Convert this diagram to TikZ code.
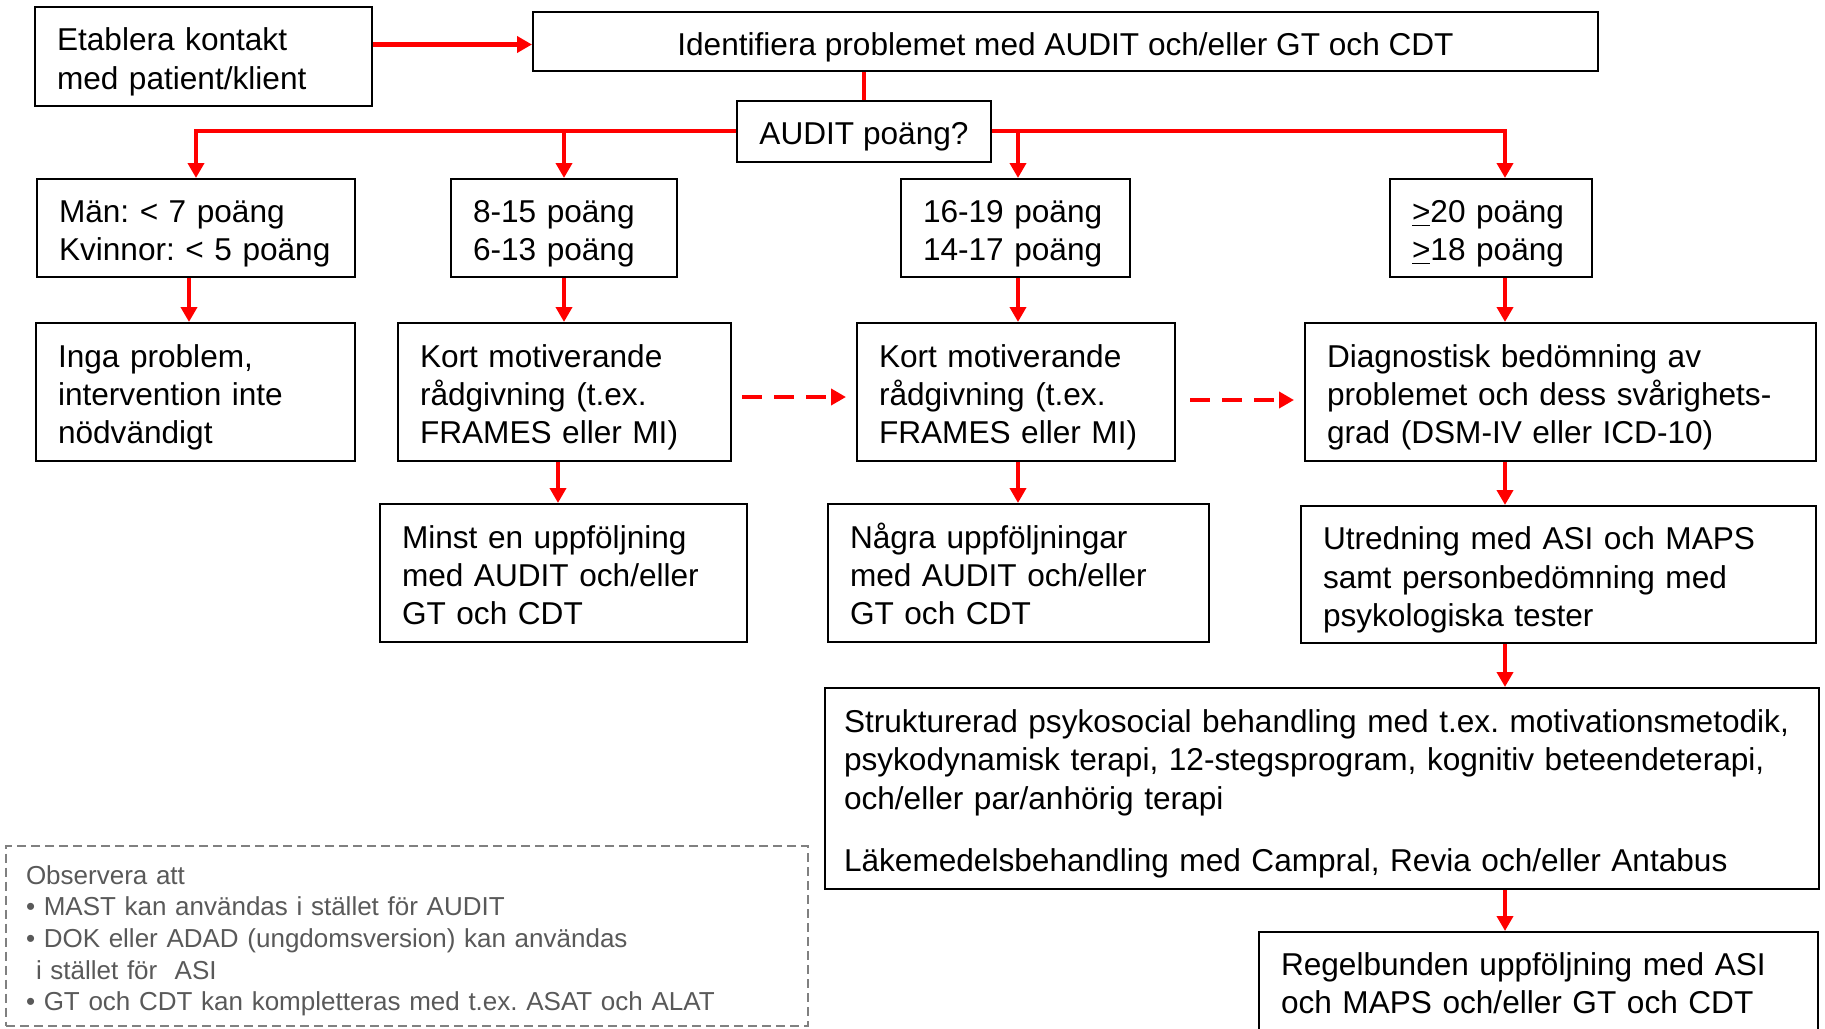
\documentclass[tikz,border=0pt]{standalone}
\usepackage{fontspec}
\setmainfont{Liberation Sans}
\usetikzlibrary{arrows.meta, positioning, calc}

\definecolor{notegray}{RGB}{89,89,89}
\definecolor{dashgray}{RGB}{128,128,128}

\begin{document}
\begin{tikzpicture}[
  x=0.5pt, y=-0.5pt,
  box/.style       = {draw, line width=1pt, align=left, inner xsep=11pt, inner ysep=0pt,
                      font=\fontsize{15.8}{19.2}\selectfont\frenchspacing,
                      execute at begin node={\rule{0pt}{17.5pt}},
                      execute at end node={\rule[-4pt]{0pt}{0pt}}},
  cbox/.style      = {box, align=center},
  note/.style      = {draw=dashgray, line width=1pt, dash pattern=on 4.5pt off 2.5pt,
                      text=notegray, align=left, inner xsep=10pt, inner ysep=0pt,
                      font=\fontsize{13}{15.85}\selectfont\frenchspacing,
                      execute at begin node={\rule{0pt}{15pt}},
                      execute at end node={\rule[-3pt]{0pt}{0pt}}},
  link/.style      = {red, line width=2pt},
  arrow/.style     = {link, -{Triangle[width=8pt,length=7.5pt]}},
  dasharrow/.style = {arrow, line width=2.2pt, dash pattern=on 10pt off 6pt}
]
\useasboundingbox (0,0) rectangle (1825,1028);

%--------------------------------------------------
% Start and screening
%--------------------------------------------------
\node[box, text width=146.5pt, minimum height=49.5pt] (etab) at (203.5,56.5)
  {Etablera kontakt\\med patient/klient};
\node[cbox, minimum width=532.5pt, minimum height=29.5pt] (ident) at (1065.5,41.5)
  {Identifiera problemet med AUDIT och/eller GT och CDT};
\node[cbox, minimum width=126pt, minimum height=30.5pt] (audit) at (864,131)
  {AUDIT poäng?};

%--------------------------------------------------
% Score levels
%--------------------------------------------------
\node[box, text width=137pt, minimum height=49pt] (man) at (196,228)
  {Män: < 7 poäng\\Kvinnor: < 5 poäng};
\node[box, text width=91pt, minimum height=49pt] (p815) at (564,228)
  {8-15 poäng\\6-13 poäng};
\node[box, text width=92.5pt, minimum height=49pt] (p1619) at (1015.5,228)
  {16-19 poäng\\14-17 poäng};
\node[box, text width=79pt, minimum height=49pt] (p20) at (1491,228)
  {\underline{>}20 poäng\\\underline{>}18 poäng};

%--------------------------------------------------
% Interventions
%--------------------------------------------------
\node[box, text width=137.5pt, minimum height=69pt] (inga) at (195.5,392)
  {Inga problem,\\intervention inte\\nödvändigt};
\node[box, text width=144.5pt, minimum height=69pt] (kort1) at (564.5,392)
  {Kort motiverande\\rådgivning (t.ex.\\FRAMES eller MI)};
\node[box, text width=137pt, minimum height=69pt] (kort2) at (1016,392)
  {Kort motiverande\\rådgivning (t.ex.\\FRAMES eller MI)};
\node[box, text width=233.5pt, minimum height=69pt] (diag) at (1560.5,392)
  {Diagnostisk bedömning av\\problemet och dess svårighets-\\grad (DSM-IV eller ICD-10)};

%--------------------------------------------------
% Follow-up
%--------------------------------------------------
\node[box, text width=161.5pt, minimum height=69pt] (minst) at (563.5,573)
  {Minst en uppföljning\\med AUDIT och/eller\\GT och CDT};
\node[box, text width=168.5pt, minimum height=69pt] (nagra) at (1018.5,573)
  {Några uppföljningar\\med AUDIT och/eller\\GT och CDT};
\node[box, text width=235.5pt, minimum height=68.5pt] (utred) at (1558.5,574.5)
  {Utredning med ASI och MAPS\\samt personbedömning med\\psykologiska tester};
\node[box, inner xsep=9.5pt, text width=478pt, minimum height=100.5pt] (strukt) at (1322,788.5)
  {Strukturerad psykosocial behandling med t.ex. motivationsmetodik,\\
   psykodynamisk terapi, 12-stegsprogram, kognitiv beteendeterapi,\\
   och/eller par/anhörig terapi\\[12.2pt]
   Läkemedelsbehandling med Campral, Revia och/eller Antabus};
\node[box, text width=257.5pt, minimum height=49pt] (regel) at (1538.5,981)
  {Regelbunden uppföljning med ASI\\och MAPS och/eller GT och CDT};

% note box
\node[note, text width=381pt, minimum height=90pt] (obs) at (407,935.5)
  {Observera att\\
   • MAST kan användas i stället för AUDIT\\
   • DOK eller ADAD (ungdomsversion) kan användas\\
   \hspace*{5pt}i stället för\ \ ASI\\
   • GT och CDT kan kompletteras med t.ex. ASAT och ALAT};

%--------------------------------------------------
% Arrow columns
%--------------------------------------------------
\coordinate (colA) at (189,0);
\coordinate (colB) at (558,0);
\coordinate (colC) at (1018,0);
\coordinate (colD) at (1505,0);

%--------------------------------------------------
% Connections
%--------------------------------------------------
\draw[arrow, line width=2.4pt] ($(etab.east |- ident.west)+(0,3)$) -- ($(ident.west)+(0,3)$);
\draw[link] (audit.north) -- (audit.north |- ident.south);

% branches from AUDIT
\draw[arrow] (audit.west) -| (man.north);
\draw[arrow] (audit.west -| p815.north) -- (p815.north);
\draw[arrow] (audit.east -| colC) -- (colC |- p1619.north);
\draw[arrow] (audit.east) -| (colD |- p20.north);

% score -> intervention
\draw[arrow] (man.south -| colA) -- (inga.north -| colA);
\draw[arrow] (p815.south) -- (p815.south |- kort1.north);
\draw[arrow] (p1619.south -| colC) -- (kort2.north -| colC);
\draw[arrow] (p20.south -| colD) -- (diag.north -| colD);

% escalation
\draw[dasharrow, shorten <=5pt, shorten >=5pt] ($(kort1.east)+(0,5)$) -- ($(kort2.west)+(0,5)$);
\draw[dasharrow, shorten <=7pt, shorten >=5pt] ($(kort2.east)+(0,8)$) -- ($(diag.west)+(0,8)$);

% intervention -> follow-up
\draw[arrow] (kort1.south -| colB) -- (minst.north -| colB);
\draw[arrow] (kort2.south -| colC) -- (nagra.north -| colC);
\draw[arrow] (diag.south -| colD) -- (utred.north -| colD);
\draw[arrow] (utred.south -| colD) -- (strukt.north -| colD);
\draw[arrow] (strukt.south -| colD) -- (regel.north -| colD);

\end{tikzpicture}
\end{document}
